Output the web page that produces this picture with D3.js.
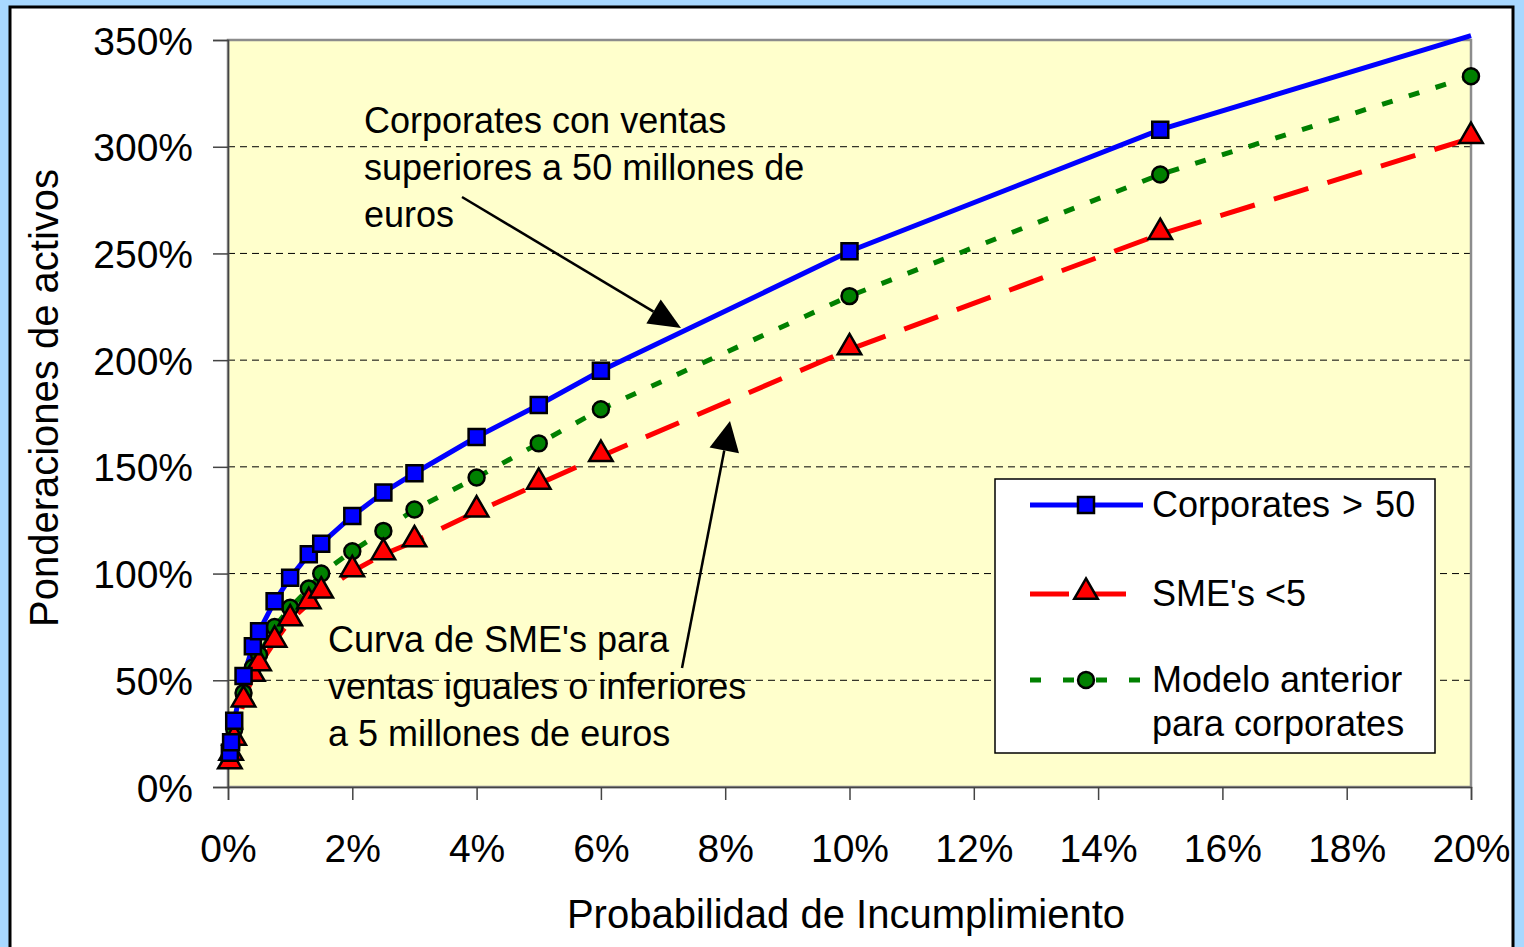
<!DOCTYPE html>
<meta charset="utf-8">
<style>
body { margin: 0; background: #a8d8ff; }
svg { display: block; font-family: "Liberation Sans", Arial, sans-serif; }
.grid line { stroke: #000; stroke-width: 1; stroke-dasharray: 7,5; }
.tick text { font-size: 39px; fill: #000; }
.line { fill: none; }
</style>
<svg width="1524" height="947"></svg>
<script src="https://d3js.org/d3.v7.min.js"></script>
<script>
// PD values (%) and risk weights (%)
var pd = [0.03, 0.05, 0.1, 0.25, 0.4, 0.5, 0.75, 1, 1.3, 1.5, 2, 2.5, 3, 4, 5, 6, 10, 15, 20];
var corporates = [16, 21, 31, 52, 66, 73, 87, 98, 109, 114, 127, 138, 147, 164, 179, 195, 251, 308, 352];
var smes = [11, 15, 22, 40, 52, 57, 68, 78, 86, 91, 101, 109, 115, 129, 142, 155, 205, 259, 304];
var modelo = [15, 19, 27, 44, 56, 62, 75, 84, 93, 100, 110.5, 120, 130, 145, 161, 177, 230, 287, 333];
var xTicks = [0, 2, 4, 6, 8, 10, 12, 14, 16, 18, 20];
var yTicks = [0, 50, 100, 150, 200, 250, 300, 350];
var legendLabels = [["Corporates > 50"], ["SME's <5"], ["Modelo anterior", "para corporates"]];

var svg = d3.select("svg");

// chart area
svg.append("rect").attr("x", 10).attr("y", 7).attr("width", 1503).attr("height", 980)
    .attr("fill", "#fff").attr("stroke", "#000").attr("stroke-width", 3);

var margin = {left: 228, top: 40, right: 1471, bottom: 787};
var x = d3.scaleLinear().domain([0, 20]).range([margin.left, margin.right]),
    y = d3.scaleLinear().domain([0, 350]).range([margin.bottom, margin.top]);

svg.append("rect").attr("x", margin.left).attr("y", margin.top)
    .attr("width", margin.right - margin.left).attr("height", margin.bottom - margin.top)
    .attr("fill", "#ffffcc");

// gridlines
svg.append("g").attr("class", "grid")
  .selectAll("line").data(yTicks.slice(1, -1)).enter().append("line")
    .attr("x1", margin.left).attr("x2", margin.right)
    .attr("y1", function(d) { return y(d); }).attr("y2", function(d) { return y(d); });

// plot border
svg.append("rect").attr("x", margin.left).attr("y", margin.top)
    .attr("width", margin.right - margin.left).attr("height", margin.bottom - margin.top)
    .attr("fill", "none").attr("stroke", "#8c8c8c").attr("stroke-width", 2.5);

var yAxis = svg.append("g")
    .attr("transform", "translate(" + margin.left + ",0)")
    .call(d3.axisLeft(y).tickValues(yTicks).tickSize(15).tickPadding(20)
      .tickFormat(function(d) { return d + "%"; }));
yAxis.select(".domain").attr("stroke", "#444").attr("stroke-width", 1.5);
yAxis.selectAll(".tick line").attr("stroke", "#444").attr("stroke-width", 1.5);
yAxis.selectAll(".tick text").attr("dy", "0.36em");

var xAxis = svg.append("g")
    .attr("transform", "translate(0," + margin.bottom + ")")
    .call(d3.axisBottom(x).tickValues(xTicks).tickSize(13).tickPadding(34)
      .tickFormat(function(d) { return d + "%"; }));
xAxis.select(".domain").attr("stroke", "#444").attr("stroke-width", 1.5);
xAxis.selectAll(".tick line").attr("stroke", "#444").attr("stroke-width", 1.5);

// axis titles
svg.append("text").attr("x", 846).attr("y", 928).attr("text-anchor", "middle")
    .style("font-size", "40px").text("Probabilidad de Incumplimiento");
svg.append("text").attr("transform", "translate(58,398) rotate(-90)").attr("text-anchor", "middle")
    .style("font-size", "40px").text("Ponderaciones de activos");

var series = [
  {values: modelo, color: "#008000", dash: "11,17", marker: "circle"},
  {values: smes, color: "#ff0000", dash: "36,20", marker: "triangle"},
  {values: corporates, color: "#0000ff", dash: null, marker: "square"}
];

var line = d3.line()
    .x(function(d) { return x(d[0]); })
    .y(function(d) { return y(d[1]); });

var symbols = {
  circle: d3.symbol().type(d3.symbolCircle).size(200),
  triangle: d3.symbol().type(d3.symbolTriangle).size(240),
  square: d3.symbol().type(d3.symbolSquare).size(256)
};
function markerOffset(m) { return m === "triangle" ? -2 : 0; }

series.forEach(function(s) {
  var pts = pd.map(function(p, i) { return [p, s.values[i]]; });
  svg.append("path").datum(pts).attr("class", "line")
      .attr("d", line)
      .attr("stroke", s.color).attr("stroke-width", 5)
      .attr("stroke-dasharray", s.dash);
});

series.forEach(function(s) {
  var pts = pd.map(function(p, i) { return [p, s.values[i]]; });
  if (s.marker === "square") pts = pts.slice(0, -1);
  svg.append("g").selectAll("path").data(pts).enter().append("path")
      .attr("d", symbols[s.marker])
      .attr("transform", function(d) { return "translate(" + x(d[0]) + "," + (y(d[1]) + markerOffset(s.marker)) + ")"; })
      .attr("fill", s.color).attr("stroke", "#000").attr("stroke-width", 2.5);
});

// annotations
function arrow(x1, y1, x2, y2, len, wid) {
  var a = Math.atan2(y2 - y1, x2 - x1),
      bx = x2 - len * Math.cos(a), by = y2 - len * Math.sin(a),
      px = -Math.sin(a) * wid / 2, py = Math.cos(a) * wid / 2;
  svg.append("line").attr("x1", x1).attr("y1", y1).attr("x2", bx).attr("y2", by)
      .attr("stroke", "#000").attr("stroke-width", 2.5);
  svg.append("path").attr("d", "M" + x2 + "," + y2 + "L" + (bx + px) + "," + (by + py) + "L" + (bx - px) + "," + (by - py) + "Z")
      .attr("fill", "#000");
}
arrow(462, 197, 681, 328, 32, 28);
arrow(682, 668, 730, 421, 30, 30);

function textBlock(lines, x0, y0, dy) {
  var t = svg.append("text").style("font-size", "36px");
  lines.forEach(function(l, i) {
    t.append("tspan").attr("x", x0).attr("y", y0 + i * dy).text(l);
  });
}
textBlock(["Corporates con ventas", "superiores a 50 millones de", "euros"], 364, 133, 47);
textBlock(["Curva de SME's para", "ventas iguales o inferiores", "a 5 millones de euros"], 328, 652, 47);

// legend
var legend = svg.append("g");
legend.append("rect").attr("x", 995).attr("y", 479).attr("width", 440).attr("height", 274)
    .attr("fill", "#fff").attr("stroke", "#000").attr("stroke-width", 1.5);
var legendY = [505, 594, 680];
var legendSeries = [series[2], series[1], series[0]];
legendSeries.forEach(function(s, i) {
  var ly = legendY[i];
  legend.append("line").attr("x1", 1030).attr("x2", 1143).attr("y1", ly).attr("y2", ly)
      .attr("stroke", s.color).attr("stroke-width", 5)
      .attr("stroke-dasharray", s.marker === "circle" ? "11,22" : (s.marker === "triangle" ? "39,18" : null));
  legend.append("path").attr("d", symbols[s.marker])
      .attr("transform", "translate(1086," + (ly + markerOffset(s.marker)) + ")")
      .attr("fill", s.color).attr("stroke", "#000").attr("stroke-width", 2.5);
  var t = legend.append("text").style("font-size", "36px");
  legendLabels[i].forEach(function(l, j) {
    t.append("tspan").attr("x", 1152).attr("y", ly + 12 + j * 44)
        .attr("word-spacing", i === 0 ? "2px" : null).text(l);
  });
});
</script>
